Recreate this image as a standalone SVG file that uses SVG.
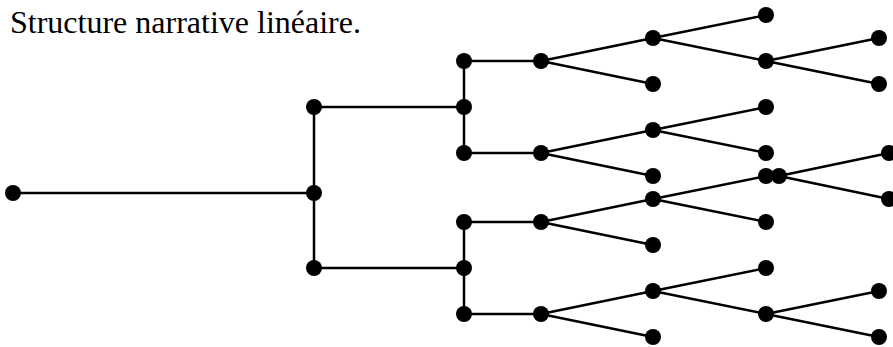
<svg xmlns="http://www.w3.org/2000/svg" width="893" height="347" viewBox="0 0 893 347">
<style>
.e{stroke:#000;stroke-width:2.5;fill:none}
.n{fill:#000}
.t{font-family:"Liberation Serif","Times New Roman",serif;font-size:32px;fill:#000}
</style>
<rect width="893" height="347" fill="#fff"/>
<text class="t" x="10" y="33">Structure narrative linéaire.</text>
<g id="connectors" class="e">
<path d="M13,193H314M314,107V268M314,107H464M314,268H464M464,61V153M464,222V314M464,61H541M464,153H541M464,222H541M464,314H541"/>
<path d="M541,61L653,38M541,61L653,84M541,153L653,130M541,153L653,176M541,222L653,199M541,222L653,245M541,314L653,291M541,314L653,337"/>
<path d="M653,38L766,15M653,38L766,61M653,130L766,107M653,130L766,153M653,199L766,176M653,199L766,222M653,291L766,268M653,291L766,314"/>
<path d="M766,61L879,38M766,61L879,84M779,176L889,153M779,176L889,199M766,314L879,291M766,314L879,337"/>
</g>
<g id="n0"><circle class="n" cx="13" cy="193" r="8"/></g>
<g id="n1"><circle class="n" cx="314" cy="193" r="8"/></g>
<g id="n2"><circle class="n" cx="314" cy="107" r="8"/></g>
<g id="n3"><circle class="n" cx="314" cy="268" r="8"/></g>
<g id="n4"><circle class="n" cx="464" cy="107" r="8"/></g>
<g id="n5"><circle class="n" cx="464" cy="268" r="8"/></g>
<g id="n6"><circle class="n" cx="464" cy="61" r="8"/></g>
<g id="n7"><circle class="n" cx="464" cy="153" r="8"/></g>
<g id="n8"><circle class="n" cx="464" cy="222" r="8"/></g>
<g id="n9"><circle class="n" cx="464" cy="314" r="8"/></g>
<g id="n10"><circle class="n" cx="541" cy="61" r="8"/></g>
<g id="n11"><circle class="n" cx="541" cy="153" r="8"/></g>
<g id="n12"><circle class="n" cx="541" cy="222" r="8"/></g>
<g id="n13"><circle class="n" cx="541" cy="314" r="8"/></g>
<g id="n14"><circle class="n" cx="653" cy="38" r="8"/></g>
<g id="n15"><circle class="n" cx="653" cy="84" r="8"/></g>
<g id="n16"><circle class="n" cx="653" cy="130" r="8"/></g>
<g id="n17"><circle class="n" cx="653" cy="176" r="8"/></g>
<g id="n18"><circle class="n" cx="653" cy="199" r="8"/></g>
<g id="n19"><circle class="n" cx="653" cy="245" r="8"/></g>
<g id="n20"><circle class="n" cx="653" cy="291" r="8"/></g>
<g id="n21"><circle class="n" cx="653" cy="337" r="8"/></g>
<g id="n22"><circle class="n" cx="766" cy="15" r="8"/></g>
<g id="n23"><circle class="n" cx="766" cy="61" r="8"/></g>
<g id="n24"><circle class="n" cx="766" cy="107" r="8"/></g>
<g id="n25"><circle class="n" cx="766" cy="153" r="8"/></g>
<g id="n26"><circle class="n" cx="766" cy="176" r="8"/></g>
<g id="n27"><circle class="n" cx="766" cy="222" r="8"/></g>
<g id="n28"><circle class="n" cx="766" cy="268" r="8"/></g>
<g id="n29"><circle class="n" cx="766" cy="314" r="8"/></g>
<g id="n30"><circle class="n" cx="779" cy="176" r="8"/></g>
<g id="n31"><circle class="n" cx="879" cy="38" r="8"/></g>
<g id="n32"><circle class="n" cx="879" cy="84" r="8"/></g>
<g id="n33"><circle class="n" cx="889" cy="153" r="8"/></g>
<g id="n34"><circle class="n" cx="889" cy="199" r="8"/></g>
<g id="n35"><circle class="n" cx="879" cy="291" r="8"/></g>
<g id="n36"><circle class="n" cx="879" cy="337" r="8"/></g>
</svg>
